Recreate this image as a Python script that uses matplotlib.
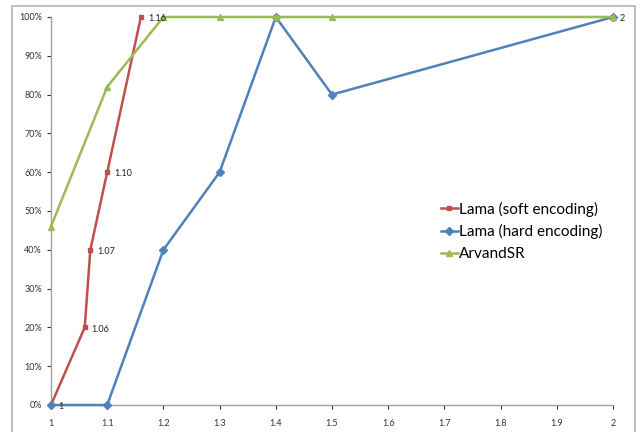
import matplotlib
matplotlib.use("Agg")
import matplotlib.pyplot as plt
from matplotlib.patches import Rectangle
from matplotlib.ticker import PercentFormatter, FormatStrFormatter

# soft encoding: x values are also the point labels
soft_x = [1.0, 1.06, 1.07, 1.10, 1.16]
soft_y = [0, 20, 40, 60, 100]
soft_labels = ["1", "1.06", "1.07", "1.10", "1.16"]

hard_x = [1.0, 1.1, 1.2, 1.3, 1.4, 1.5, 2.0]
hard_y = [0, 0, 40, 60, 100, 80, 100]

arvand_x = [1.0, 1.1, 1.2, 1.3, 1.4, 1.5, 2.0]
arvand_y = [46, 82, 100, 100, 100, 100, 100]

x_ticks = [1, 1.1, 1.2, 1.3, 1.4, 1.5, 1.6, 1.7, 1.8, 1.9, 2]
y_ticks = list(range(0, 101, 10))

plt.rcParams['font.family'] = ['Lato', 'DejaVu Sans']

fig = plt.figure(figsize=(6.41, 4.32), dpi=100)
ax = fig.add_axes([51 / 641, 1 - 405 / 432, 562 / 641, 388 / 432])

# outer chart frame
fig.patches.append(Rectangle((12 / 641, -0.05), 623 / 641, 1 - 6 / 432 + 0.05,
                             transform=fig.transFigure, fill=False,
                             edgecolor='#b5b5b5', linewidth=1.2))

ax.plot(soft_x, soft_y, color='#C0504D', marker='s', markersize=3.5,
        linewidth=1.8, label='Lama (soft encoding)', clip_on=False, zorder=3)
ax.plot(hard_x, hard_y, color='#4F81BD', marker='D', markersize=4,
        linewidth=1.8, label='Lama (hard encoding)', clip_on=False, zorder=3)
ax.plot(arvand_x, arvand_y, color='#9BBB59', marker='^', markersize=5,
        linewidth=1.8, label='ArvandSR', clip_on=False, zorder=4)

for x, y, s in zip(soft_x, soft_y, soft_labels):
    ax.annotate(s, (x, y), xytext=(5, -3), textcoords='offset points',
                fontsize=6.5, color='#222222', zorder=6,
                annotation_clip=False)
ax.annotate("2", (hard_x[-1], hard_y[-1]), xytext=(5, -3),
            textcoords='offset points', fontsize=6.5, color='#222222',
            zorder=6, annotation_clip=False)

ax.set_xlim(1, 2)
ax.set_ylim(0, 100)
ax.set_xticks(x_ticks)
ax.set_yticks(y_ticks)
ax.xaxis.set_major_formatter(FormatStrFormatter('%g'))
ax.yaxis.set_major_formatter(PercentFormatter(decimals=0))
ax.tick_params(labelsize=6.5, colors='#333333', length=3, width=0.8)
ax.tick_params(axis='x', pad=7)
for side in ('top', 'right'):
    ax.spines[side].set_visible(False)
for side in ('left', 'bottom'):
    ax.spines[side].set_color('#a0a0a0')
    ax.spines[side].set_linewidth(1)

ax.legend(loc='upper left', bbox_to_anchor=(0.683, 0.54), frameon=False,
          fontsize=11, handlelength=1.1, handletextpad=0.1,
          labelspacing=0.5, borderaxespad=0)

fig.savefig('out.png', dpi=100)
